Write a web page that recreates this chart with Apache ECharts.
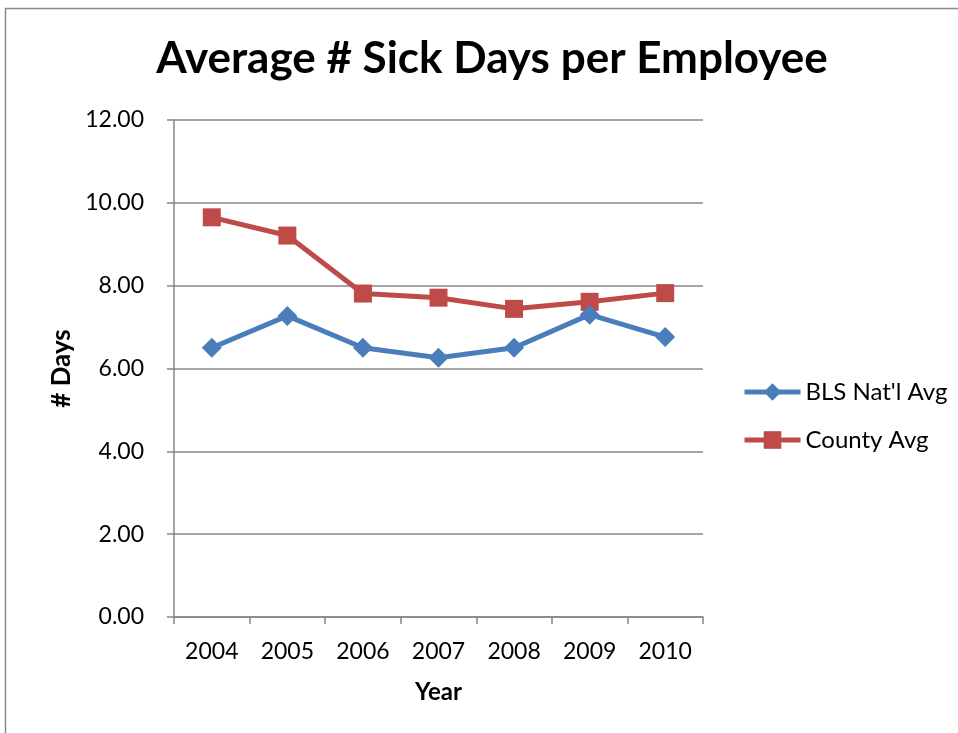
<!DOCTYPE html>
<html>
<head>
<meta charset="utf-8">
<style>
  html, body { margin: 0; padding: 0; background: #ffffff; }
  #chart { width: 958px; height: 733px; }
</style>
<script src="https://cdn.jsdelivr.net/npm/echarts@6/dist/echarts.min.js"></script>
</head>
<body>
<div id="chart"></div>
<script>
// Years on the category axis
var years = ['2004', '2005', '2006', '2007', '2008', '2009', '2010'];
// Average sick days per employee
var blsNatlAvg = [6.50, 7.27, 6.50, 6.26, 6.50, 7.30, 6.76];
var countyAvg  = [9.65, 9.21, 7.81, 7.71, 7.44, 7.61, 7.82];
// Value axis range
var yMin = 0, yMax = 12, yStep = 2;

var FONT = 'Lato, "Open Sans", sans-serif';
var AXIS_GREY = '#878787';
var BLUE = '#4A7EBB';
var RED = '#BE4B48';

var chart = echarts.init(document.getElementById('chart'));
chart.setOption({
  backgroundColor: '#ffffff',
  animation: false,
  textStyle: { fontFamily: FONT, color: '#000' },
  graphic: [{
    type: 'polyline',
    shape: { points: [[5.5, 733], [5.5, 8.5], [958, 8.5]] },
    style: { stroke: '#8a8a8a', lineWidth: 1.5, fill: null },
    silent: true
  }],
  title: {
    text: 'Average # Sick Days per Employee',
    left: 487,
    textAlign: 'center',
    top: 32,
    textStyle: { fontFamily: FONT, fontSize: 44, fontWeight: 'bold', color: '#000' }
  },
  legend: {
    orient: 'vertical',
    left: 737,
    top: 375,
    itemWidth: 56,
    itemHeight: 22,
    itemGap: 24,
    lineStyle: { width: 5 },
    textStyle: { fontFamily: FONT, fontSize: 24, color: '#000' },
    data: ["BLS Nat'l Avg", 'County Avg']
  },
  grid: { left: 174, right: 255, top: 120, bottom: 116, containLabel: false },
  xAxis: {
    type: 'category',
    data: years,
    boundaryGap: true,
    name: 'Year',
    nameLocation: 'middle',
    nameGap: 63,
    nameTextStyle: { fontFamily: FONT, fontSize: 24, fontWeight: 'bold', color: '#000' },
    axisLine: { lineStyle: { color: AXIS_GREY, width: 1.5 } },
    axisTick: { show: true, alignWithLabel: false, length: 7, lineStyle: { color: AXIS_GREY, width: 1.5 } },
    axisLabel: { fontFamily: FONT, fontSize: 23, color: '#000', margin: 23 },
    splitLine: { show: false }
  },
  yAxis: {
    type: 'value',
    min: yMin,
    max: yMax,
    interval: yStep,
    name: '# Days',
    nameLocation: 'middle',
    nameGap: 98,
    nameRotate: 90,
    nameTextStyle: { fontFamily: FONT, fontSize: 26, fontWeight: 'bold', color: '#000' },
    axisLine: { show: true, lineStyle: { color: AXIS_GREY, width: 1.5 } },
    axisTick: { show: true, length: 7, lineStyle: { color: AXIS_GREY, width: 1.5 } },
    axisLabel: {
      fontFamily: FONT, fontSize: 23, color: '#000', margin: 30,
      formatter: function (v) { return v.toFixed(2); }
    },
    splitLine: { show: true, lineStyle: { color: AXIS_GREY, width: 1.5 } }
  },
  series: [{
    name: "BLS Nat'l Avg",
    type: 'line',
    data: blsNatlAvg,
    symbol: 'diamond',
    symbolSize: 20,
    lineStyle: { color: BLUE, width: 5 },
    itemStyle: { color: BLUE },
    z: 3
  }, {
    name: 'County Avg',
    type: 'line',
    data: countyAvg,
    symbol: 'rect',
    symbolSize: 18,
    lineStyle: { color: RED, width: 5 },
    itemStyle: { color: RED },
    z: 2
  }]
});
</script>
</body>
</html>
